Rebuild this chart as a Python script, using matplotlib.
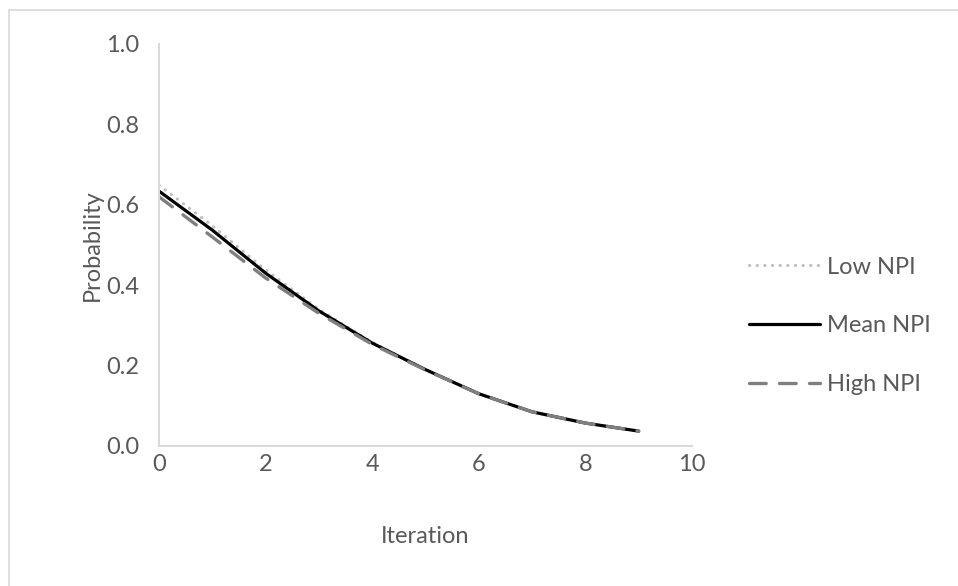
import matplotlib
matplotlib.use("Agg")
import matplotlib.pyplot as plt
from matplotlib.patches import Rectangle

plt.rcParams["font.family"] = ["Lato", "DejaVu Sans"]

iteration = [0, 1, 2, 3, 4, 5, 6, 7, 8, 9]
low_npi = [0.649, 0.548, 0.438, 0.340, 0.258, 0.190, 0.130, 0.085, 0.057, 0.037]
mean_npi = [0.634, 0.537, 0.430, 0.336, 0.256, 0.190, 0.130, 0.085, 0.057, 0.037]
high_npi = [0.620, 0.520, 0.418, 0.330, 0.253, 0.189, 0.130, 0.085, 0.057, 0.037]

grey_text = "#595959"
axis_grey = "#D9D9D9"
fs = 17

fig = plt.figure(figsize=(9.58, 5.86), dpi=100)
ax = fig.add_axes([159 / 958, 1 - 446 / 586, 533 / 958, 402 / 586])

# outer chart border
fig.patches.append(Rectangle((9 / 958, -0.1), 1.2, 1 - 10 / 586 + 0.1,
                             transform=fig.transFigure, fill=False,
                             edgecolor=axis_grey, lw=1.2))

ax.plot(iteration, low_npi, color="#BFBFBF", lw=2.2, dashes=(0.1, 2.4),
        dash_capstyle="round", label="Low NPI")
ax.plot(iteration, mean_npi, color="black", lw=2.3, solid_capstyle="round",
        label="Mean NPI")
ax.plot(iteration, high_npi, color="#7F7F7F", lw=2.4, dashes=(5, 4),
        dash_capstyle="round", label="High NPI")

ax.set_xlim(0, 10)
ax.set_ylim(0, 1.0)
ax.set_xticks(range(0, 11, 2))
ax.set_yticks([0.0, 0.2, 0.4, 0.6, 0.8, 1.0])
ax.set_yticklabels(["0.0", "0.2", "0.4", "0.6", "0.8", "1.0"])
ax.tick_params(length=0, labelsize=fs, labelcolor=grey_text)
ax.tick_params(axis="y", pad=14)
ax.tick_params(axis="x", pad=6)

for side in ["top", "right"]:
    ax.spines[side].set_visible(False)
for side in ["left", "bottom"]:
    ax.spines[side].set_color(axis_grey)
    ax.spines[side].set_linewidth(1.5)

ax.set_xlabel("Iteration", fontsize=fs, color=grey_text)
ax.set_ylabel("Probability", fontsize=fs, color=grey_text)
ax.xaxis.set_label_coords(0.5, -0.226)
ax.xaxis.label.set_va("center")
ax.yaxis.set_label_coords(-0.125, 0.5)
ax.yaxis.label.set_va("center")

leg = fig.legend(loc="center left", bbox_to_anchor=(728 / 958, 1 - 326 / 586),
                 frameon=False, fontsize=fs, handlelength=3.0,
                 handletextpad=0.3, labelspacing=1.6)
for t in leg.get_texts():
    t.set_color(grey_text)

fig.savefig("out.png", dpi=100)
